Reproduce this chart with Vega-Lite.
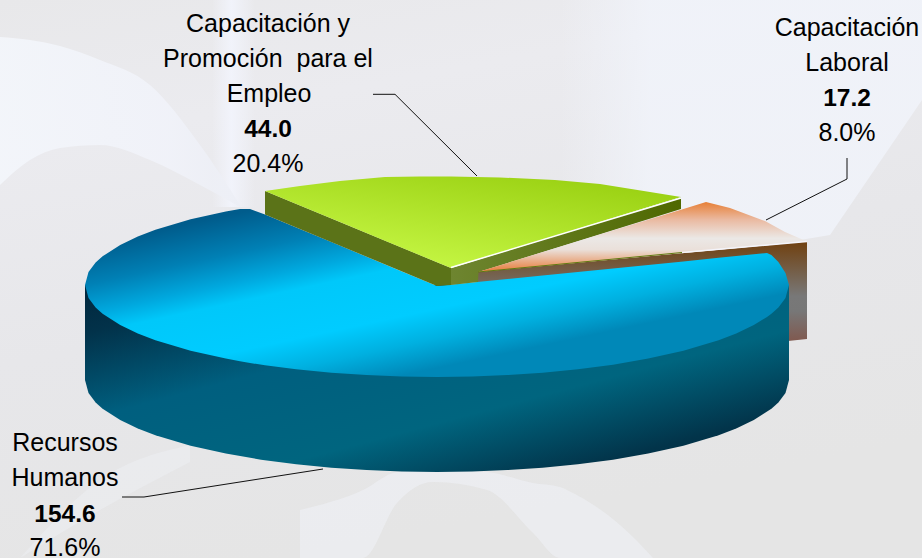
{"$schema":"https://vega.github.io/schema/vega-lite/v6.json","width":922,"height":558,"padding":0,"autosize":{"type":"none"},"background":"#e8e8ea","view":{"stroke":null,"fill":{"gradient":"linear","x1":0,"y1":0,"x2":0.3,"y2":1,"stops":[{"offset":0,"color":"#e8e8ea"},{"offset":0.25,"color":"#ebebef"},{"offset":0.6,"color":"#e7e7ea"},{"offset":1,"color":"#e5e5e5"}]}},
"datasets":{
"band1":[{"x":212,"y":0,"y2":207},{"x":255,"y":0,"y2":207}],
"band2":[{"x":0,"y":37,"y2":185},{"x":30,"y":40,"y2":160},{"x":60,"y":46,"y2":148},{"x":100,"y":60,"y2":145},{"x":150,"y":85,"y2":160},{"x":200,"y":145,"y2":185},{"x":240,"y":205,"y2":207}],
"band3":[{"x":560,"y":0,"y2":200},{"x":800,"y":0,"y2":240},{"x":830,"y":0,"y2":235},{"x":922,"y":0,"y2":100}],
"band4":[{"x":300,"y":510,"y2":558},{"x":363,"y":490,"y2":558},{"x":397,"y":472,"y2":503},{"x":433,"y":470,"y2":482},{"x":487,"y":472,"y2":490},{"x":533,"y":483,"y2":533},{"x":560,"y":487,"y2":558},{"x":567,"y":490,"y2":558},{"x":633,"y":537,"y2":558},{"x":653,"y":558,"y2":558}],
"band5":[{"x":20,"y":558,"y2":558},{"x":100,"y":480,"y2":510},{"x":190,"y":445,"y2":462}],
"brown":[{"x":478,"y":272,"y2":300},{"x":788,"y":243.3,"y2":341},{"x":807,"y":241.5,"y2":339}],
"wall":[{"x":85,"y":285,"y2":380},{"x":88.5,"y":285,"y2":393},{"x":95.6,"y":285,"y2":402.4},{"x":102.6,"y":285,"y2":408.7},{"x":120.2,"y":285,"y2":420.1},{"x":137.8,"y":285,"y2":428.5},{"x":155.4,"y":285,"y2":435.2},{"x":190.6,"y":285,"y2":445.7},{"x":225.8,"y":285,"y2":453.6},{"x":261,"y":285,"y2":459.7},{"x":296.2,"y":285,"y2":464.3},{"x":331.4,"y":285,"y2":467.8},{"x":366.6,"y":285,"y2":470.1},{"x":401.8,"y":285,"y2":471.5},{"x":437,"y":285,"y2":472},{"x":472.2,"y":285,"y2":471.5},{"x":507.4,"y":285,"y2":470.1},{"x":542.6,"y":285,"y2":467.8},{"x":577.8,"y":285,"y2":464.3},{"x":613,"y":285,"y2":459.7},{"x":648.2,"y":285,"y2":453.6},{"x":683.4,"y":285,"y2":445.7},{"x":718.6,"y":285,"y2":435.2},{"x":736.2,"y":285,"y2":428.5},{"x":753.8,"y":285,"y2":420.1},{"x":771.4,"y":285,"y2":408.7},{"x":778.4,"y":285,"y2":402.4},{"x":785.5,"y":285,"y2":393},{"x":789,"y":285,"y2":380}],
"blue":[{"x":85,"y":285,"y2":285},{"x":88.5,"y":272,"y2":298},{"x":95.6,"y":262.6,"y2":307.4},{"x":102.6,"y":256.3,"y2":313.7},{"x":120.2,"y":244.9,"y2":325.1},{"x":137.8,"y":236.5,"y2":333.5},{"x":155.4,"y":229.8,"y2":340.2},{"x":190.6,"y":219.3,"y2":350.7},{"x":225.8,"y":211.4,"y2":358.6},{"x":240,"y":209,"y2":361.2},{"x":250,"y":209,"y2":363},{"x":265,"y":214.5,"y2":365.3},{"x":296.2,"y":227.5,"y2":369.3},{"x":331.4,"y":242.1,"y2":372.8},{"x":366.6,"y":256.8,"y2":375.1},{"x":401.8,"y":271.4,"y2":376.5},{"x":437,"y":286,"y2":377},{"x":472.2,"y":282.5,"y2":376.5},{"x":507.4,"y":279,"y2":375.1},{"x":542.6,"y":275.4,"y2":372.8},{"x":577.8,"y":271.9,"y2":369.3},{"x":613,"y":268.4,"y2":364.7},{"x":648.2,"y":264.9,"y2":358.6},{"x":683.4,"y":261.4,"y2":350.7},{"x":718.6,"y":257.8,"y2":340.2},{"x":736.2,"y":256,"y2":333.5},{"x":753.8,"y":254.3,"y2":325.1},{"x":767,"y":253,"y2":317},{"x":771.4,"y":255,"y2":313.7},{"x":778.4,"y":262,"y2":307.4},{"x":785.5,"y":273,"y2":298},{"x":789,"y":285,"y2":285}],
"greenLeft":[{"x":265,"y":191,"y2":214.5},{"x":437,"y":262.2,"y2":286},{"x":451,"y":268,"y2":285}],
"greenRight":[{"x":451,"y":268,"y2":285},{"x":478,"y":259.7,"y2":282},{"x":478.5,"y":259.5,"y2":272},{"x":681,"y":197.5,"y2":209}],
"greenTop":[{"x":265,"y":191,"y2":191},{"x":300,"y":186,"y2":205.5},{"x":340,"y":181,"y2":222},{"x":385,"y":177,"y2":240.7},{"x":420,"y":176.5,"y2":255.2},{"x":451,"y":176.5,"y2":268},{"x":500,"y":177.5,"y2":252.9},{"x":555,"y":180,"y2":235.9},{"x":600,"y":184,"y2":222},{"x":650,"y":192,"y2":206.6},{"x":681,"y":197,"y2":197}],
"orange":[{"x":478,"y":272,"y2":272},{"x":600,"y":234.5,"y2":260.7},{"x":681,"y":209.7,"y2":253.2},{"x":706,"y":202,"y2":250.9},{"x":730,"y":208,"y2":248.7},{"x":765,"y":221,"y2":245.4},{"x":785,"y":232,"y2":243.5},{"x":807,"y":241.5,"y2":241.5}],
"white1":[{"x":451,"y":267.5},{"x":681,"y":198}],
"white2":[{"x":682,"y":252.5},{"x":807,"y":241.5}],
"sliver":[{"x":478,"y":272},{"x":682,"y":252.5}],
"leaders":[{"slice":"a","order":1,"x":373,"y":94.3},{"slice":"a","order":2,"x":395,"y":94.3},{"slice":"a","order":3,"x":477,"y":176},{"slice":"b","order":1,"x":847,"y":158},{"slice":"b","order":2,"x":847,"y":179},{"slice":"b","order":3,"x":766,"y":220},{"slice":"c","order":1,"x":122,"y":497},{"slice":"c","order":2,"x":144,"y":497},{"slice":"c","order":3,"x":323,"y":469}],
"labels":[{"line":"Capacitación y","kind":"name","x":268,"y":32},{"line":"Promoción \u00a0para el","kind":"name","x":268,"y":67},{"line":"Empleo","kind":"name","x":269,"y":102},{"line":"44.0","kind":"value","x":268,"y":137},{"line":"20.4%","kind":"share","x":268,"y":172},{"line":"Capacitación","kind":"name","x":847,"y":36},{"line":"Laboral","kind":"name","x":847,"y":71},{"line":"17.2","kind":"value","x":847,"y":106},{"line":"8.0%","kind":"share","x":847,"y":141},{"line":"Recursos","kind":"name","x":65,"y":451},{"line":"Humanos","kind":"name","x":65,"y":486},{"line":"154.6","kind":"value","x":65,"y":522},{"line":"71.6%","kind":"share","x":65,"y":556}]
},
"encoding":{"x":{"field":"x","type":"quantitative","scale":{"domain":[0,922],"nice":false,"zero":false},"axis":null},"y":{"field":"y","type":"quantitative","scale":{"domain":[558,0],"nice":false,"zero":false},"axis":null}},
"layer":[
{"data":{"name":"band3"},"mark":{"type":"area","fill":{"gradient":"linear","x1":0,"y1":0,"x2":1,"y2":0,"stops":[{"offset":0,"color":"rgba(241,244,251,0)"},{"offset":0.25,"color":"rgba(241,244,251,0.8)"},{"offset":1,"color":"rgba(241,244,251,0.8)"}]}},"encoding":{"y2":{"field":"y2"}}},
{"data":{"name":"band1"},"mark":{"type":"area","fill":{"gradient":"linear","x1":0,"y1":0,"x2":1,"y2":0,"stops":[{"offset":0,"color":"rgba(242,244,252,0)"},{"offset":0.45,"color":"rgba(242,244,252,0.9)"},{"offset":1,"color":"rgba(242,244,252,0)"}]}},"encoding":{"y2":{"field":"y2"}}},
{"data":{"name":"band2"},"mark":{"type":"area","interpolate":"monotone","fill":{"gradient":"linear","x1":0,"y1":0,"x2":1,"y2":0,"stops":[{"offset":0,"color":"#f4f7fc"},{"offset":0.7,"color":"#f1f3fa"},{"offset":1,"color":"#eceef5"}]},"fillOpacity":0.85},"encoding":{"y2":{"field":"y2"}}},
{"data":{"name":"band4"},"mark":{"type":"area","fill":"#f1f4fa","fillOpacity":0.5,"interpolate":"monotone"},"encoding":{"y2":{"field":"y2"}}},
{"data":{"name":"band5"},"mark":{"type":"area","fill":"#f1f3f8","fillOpacity":0.35,"interpolate":"monotone"},"encoding":{"y2":{"field":"y2"}}},
{"data":{"name":"brown"},"mark":{"type":"area","fill":{"gradient":"linear","x1":0,"y1":0,"x2":0,"y2":1,"stops":[{"offset":0,"color":"#70400f"},{"offset":0.55,"color":"#787878"},{"offset":0.7,"color":"#777777"},{"offset":1,"color":"#80594f"}]}},"encoding":{"y2":{"field":"y2"}}},
{"data":{"name":"wall"},"mark":{"type":"area","fill":{"gradient":"linear","x1":0,"y1":0,"x2":1,"y2":1,"stops":[{"offset":0,"color":"#01263c"},{"offset":0.13,"color":"#02324a"},{"offset":0.36,"color":"#005f7f"},{"offset":0.62,"color":"#00657f"},{"offset":0.84,"color":"#02344a"},{"offset":1,"color":"#02283a"}]}},"encoding":{"y2":{"field":"y2"}}},
{"data":{"name":"blue"},"mark":{"type":"area","fill":{"gradient":"linear","x1":0.22,"y1":0.02,"x2":0.805,"y2":0.674,"stops":[{"offset":0,"color":"#005c8c"},{"offset":0.2,"color":"#0080b5"},{"offset":0.35,"color":"#00a8de"},{"offset":0.45,"color":"#00c8fa"},{"offset":0.7,"color":"#00ccff"},{"offset":0.85,"color":"#00b0e0"},{"offset":1,"color":"#0088b8"}]}},"encoding":{"y2":{"field":"y2"}}},
{"data":{"name":"greenLeft"},"mark":{"type":"area","fill":"#5b7318"},"encoding":{"y2":{"field":"y2"}}},
{"data":{"name":"greenRight"},"mark":{"type":"area","fill":{"gradient":"linear","x1":0,"y1":0,"x2":1,"y2":0,"stops":[{"offset":0,"color":"#6e8530"},{"offset":1,"color":"#4f6800"}]}},"encoding":{"y2":{"field":"y2"}}},
{"data":{"name":"greenTop"},"mark":{"type":"area","fill":{"gradient":"linear","x1":0.15,"y1":1,"x2":0.85,"y2":0,"stops":[{"offset":0,"color":"#cbfb4a"},{"offset":1,"color":"#98cf10"}]}},"encoding":{"y2":{"field":"y2"}}},
{"data":{"name":"orange"},"mark":{"type":"area","fill":{"gradient":"linear","x1":0,"y1":0,"x2":0,"y2":1,"stops":[{"offset":0,"color":"#e77f36"},{"offset":0.25,"color":"#eab9a0"},{"offset":0.52,"color":"#ebe8e6"},{"offset":0.68,"color":"#eae0da"},{"offset":1,"color":"#e87b38"}]}},"encoding":{"y2":{"field":"y2"}}},
{"data":{"name":"white1"},"mark":{"type":"line","stroke":"#ffffff","strokeWidth":1.5}},
{"data":{"name":"white2"},"mark":{"type":"line","stroke":"#f4f4fa","strokeWidth":1.5}},
{"data":{"name":"sliver"},"mark":{"type":"line","stroke":"#5f7a10","strokeWidth":1}},
{"data":{"name":"leaders"},"mark":{"type":"line","stroke":"#111111","strokeWidth":1},"encoding":{"detail":{"field":"slice"},"order":{"field":"order"}}},
{"data":{"name":"labels"},"transform":[{"filter":"datum.kind !== 'value'"}],"mark":{"type":"text","font":"Liberation Sans","fontSize":25,"align":"center","baseline":"alphabetic","color":"#000000"},"encoding":{"text":{"field":"line"}}},
{"data":{"name":"labels"},"transform":[{"filter":"datum.kind === 'value'"}],"mark":{"type":"text","font":"Liberation Sans","fontSize":24.5,"fontWeight":"bold","align":"center","baseline":"alphabetic","color":"#000000"},"encoding":{"text":{"field":"line"}}}
]}
